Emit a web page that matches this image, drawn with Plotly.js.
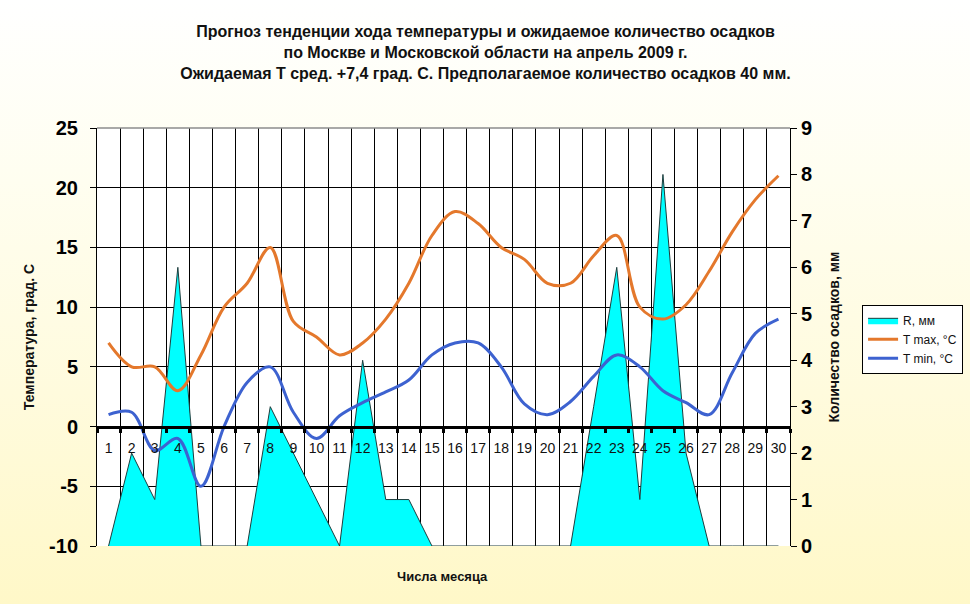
<!DOCTYPE html>
<html>
<head>
<meta charset="utf-8">
<script src="https://cdn.plot.ly/plotly-3.0.1.min.js"></script>
<style>
  html, body { margin: 0; padding: 0; }
  body {
    width: 970px; height: 604px; overflow: hidden;
    background: linear-gradient(to bottom, #FFFFFF 0%, #FFFEF0 30%, #FFFBDD 65%, #FFF8C8 100%);
  }
  #chart { width: 970px; height: 604px; }
</style>
</head>
<body>
<div id="chart"></div>
<script>
// ---- data ----
const days = ['1','2','3','4','5','6','7','8','9','10','11','12','13','14','15',
              '16','17','18','19','20','21','22','23','24','25','26','27','28','29','30'];
const rain = [0, 2, 1, 6, 0, 0, 0, 3, 2, 1, 0, 4, 1, 1, 0,
              0, 0, 0, 0, 0, 0, 3, 6, 1, 8, 2, 0, 0, 0, 0];
const tMax = [7, 5, 5, 3, 6, 10, 12, 15, 8.8, 7.5, 6, 7, 9, 12, 16,
              18, 17, 15, 14, 12, 12, 14.3, 16, 10, 9, 10.2, 13, 16.3, 19, 21];
const tMin = [1, 1.2, -2, -1, -5, 0, 3.7, 5, 1.2, -1, 0.9, 2, 2.9, 3.9, 6,
              7, 7, 5, 1.9, 1, 2.1, 4.2, 6, 5, 3, 2, 1, 4.5, 7.8, 9];
const tempTickVals = [-10, -5, 0, 5, 10, 15, 20, 25];
const tempTickText = ['-10', '-5', '0', '5', '10', '15', '20', '25'];
const seriesNames = ['R, мм', 'T max, °C', 'T min, °C'];
const titleLines = [
  'Прогноз тенденции хода температуры и ожидаемое количество осадков',
  'по Москве и Московской области на апрель 2009 г.',
  'Ожидаемая Т сред. +7,4 град. С. Предполагаемое количество осадков 40 мм.'
];
const yTitle = 'Температура, град. С';
const y2Title = 'Количество осадков, мм';
const xTitle = 'Числа месяца';

const FONT = '"Liberation Sans", Arial, sans-serif';

const traces = [
  {
    x: days, y: rain, name: seriesNames[0], type: 'scatter', mode: 'lines',
    yaxis: 'y', fill: 'tozeroy', fillcolor: '#00FFFF',
    line: { color: '#1E3C3C', width: 1 }
  },
  {
    x: days, y: tMax, name: seriesNames[1], type: 'scatter', mode: 'lines',
    yaxis: 'y2', line: { color: '#E4782C', width: 3, shape: 'spline', smoothing: 1 }
  },
  {
    x: days, y: tMin, name: seriesNames[2], type: 'scatter', mode: 'lines',
    yaxis: 'y2', line: { color: '#3D62D0', width: 3, shape: 'spline', smoothing: 1 }
  }
];

const layout = {
  width: 970, height: 604,
  margin: { l: 97, r: 180, t: 128, b: 58, autoexpand: false },
  paper_bgcolor: 'rgba(0,0,0,0)',
  plot_bgcolor: '#FFFFFF',
  font: { family: FONT, color: '#000000' },
  showlegend: true,
  title: {
    text: titleLines.map(s => '<b>' + s + '</b>').join('<br>'),
    font: { family: FONT, size: 16, color: '#111111' },
    x: 485.5 / 970, xanchor: 'center', xref: 'container',
    y: 1 - 37 / 604, yanchor: 'top', yref: 'container'
  },
  xaxis: {
    type: 'category', automargin: false,
    anchor: 'free', position: 10 / 35,
    range: [-0.5, 29.5],
    tickson: 'boundaries', tickangle: 0,
    showgrid: true, gridcolor: '#000000', gridwidth: 1,
    showline: true, linecolor: '#000000', linewidth: 3,
    ticks: 'outside', ticklen: 4, tickwidth: 3, tickcolor: '#000000',
    ticklabelstandoff: 8,
    tickfont: { family: FONT, size: 14, color: '#111111' },
    zeroline: false, fixedrange: true
  },
  yaxis: {
    range: [0, 9], dtick: 1, side: 'right', automargin: false,
    showgrid: false, zeroline: false,
    showline: true, linecolor: '#000000', linewidth: 1,
    ticks: 'outside', ticklen: 6, tickcolor: '#000000',
    tickfont: { family: FONT, size: 20, color: '#000000', weight: 'bold' },
    title: { text: '<b>' + y2Title + '</b>', font: { family: FONT, size: 14, color: '#111111' }, standoff: 17 },
    fixedrange: true
  },
  yaxis2: {
    range: [-10, 25], side: 'left', overlaying: 'y', anchor: 'x', automargin: false,
    tickmode: 'array', tickvals: tempTickVals, ticktext: tempTickText,
    showgrid: true, gridcolor: '#000000', gridwidth: 1, zeroline: false,
    showline: true, linecolor: '#000000', linewidth: 1,
    ticks: 'outside', ticklen: 6, tickcolor: '#000000',
    ticklabelstandoff: 8,
    tickfont: { family: FONT, size: 20, color: '#000000', weight: 'bold' },
    title: { text: '<b>' + yTitle + '</b>', font: { family: FONT, size: 14, color: '#111111' }, standoff: 11 },
    fixedrange: true
  },
  legend: {
    x: 1.104, xanchor: 'left', xref: 'paper',
    y: 0.577, yanchor: 'top', yref: 'paper',
    bgcolor: '#FFFFFF', bordercolor: '#000000', borderwidth: 1,
    font: { family: FONT, size: 12, color: '#111111' },
    itemwidth: 30, tracegroupgap: 0
  },
  shapes: [
    { type: 'line', xref: 'paper', yref: 'paper', x0: 0, x1: 1, y0: 1, y1: 1,
      line: { color: '#8C8C8C', width: 1.5 }, layer: 'above' }
  ],
  annotations: [
    { text: '<b>' + xTitle + '</b>', xref: 'paper', yref: 'paper',
      x: (442 - 97) / 693, y: -(576 - 546) / 418, xanchor: 'center', yanchor: 'middle',
      showarrow: false, font: { family: FONT, size: 13, color: '#111111' } }
  ]
};

Plotly.newPlot('chart', traces, layout, { staticPlot: true, displayModeBar: false });
</script>
</body>
</html>
